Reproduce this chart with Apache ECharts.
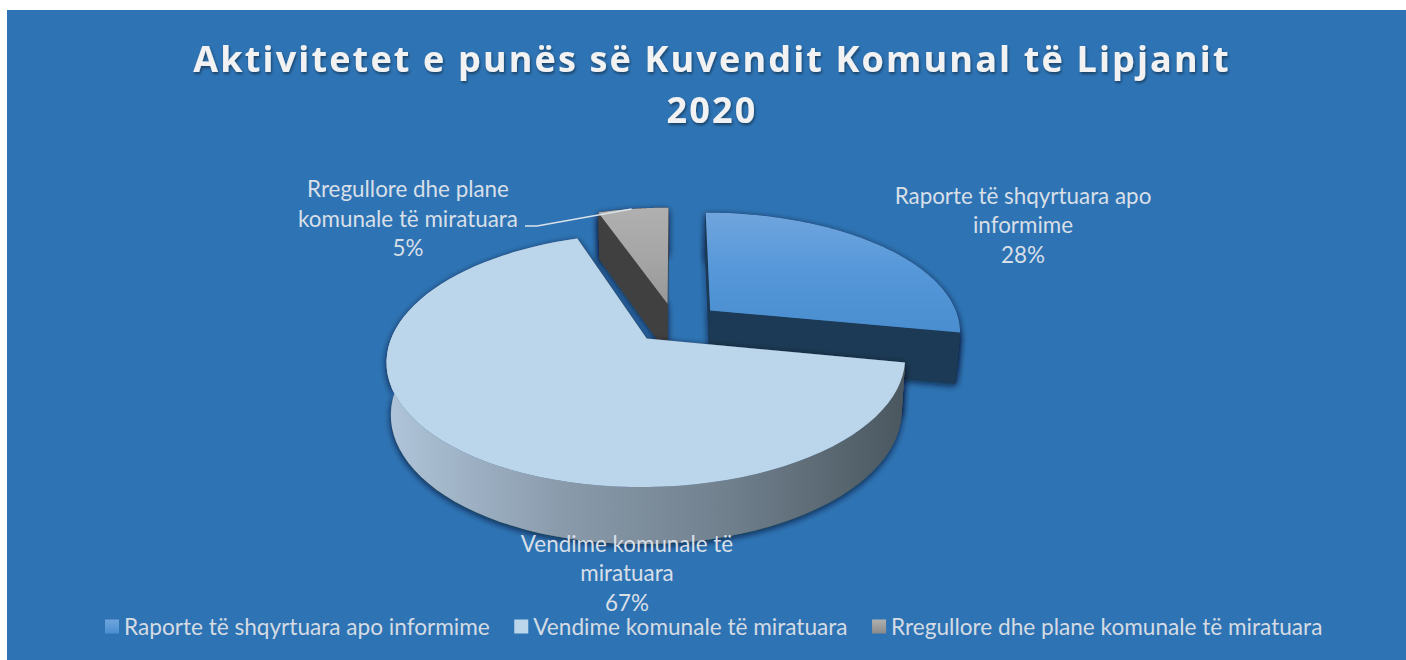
<!DOCTYPE html>
<html><head><meta charset="utf-8">
<style>
html,body{margin:0;padding:0;background:#fff}
#c{width:1406px;height:660px}
#c text[style*="36px"]{letter-spacing:2.15px}
</style>
<script src="https://cdn.jsdelivr.net/npm/echarts@6/dist/echarts.min.js"></script>
</head><body><div id="c"></div>
<script>
const titleLines = ['Aktivitetet e punës së Kuvendit Komunal të Lipjanit', '2020'];
const categories = ['Raporte të shqyrtuara apo informime', 'Vendime komunale të miratuara', 'Rregullore dhe plane komunale të miratuara'];
const labelLines = ['Raporte të shqyrtuara apo\ninformime', 'Vendime komunale të\nmiratuara', 'Rregullore dhe plane\nkomunale të miratuara'];
const values = [28, 66.6, 5.4];

// perspective disc layout
const P = {x0: 674.5, y0: 323, R: 250, S: 118, p: 1/6, e: 0.17, kx: 0.985};
const nudgeX = [3.5, 0.5, 0];
const total = values.reduce((a, b) => a + b, 0);
const starts = []; let acc = 0;
values.forEach(v => { starts.push(acc / total * 2 * Math.PI); acc += v; });
const spans = values.map(v => v / total * 2 * Math.PI);

function proj(i, a, r, low) {
  const m = starts[i] + spans[i] / 2;
  const X = P.e * Math.sin(m) + r * Math.sin(a);
  const Y = -P.e * Math.cos(m) - r * Math.cos(a);
  const w = 1 / (1 - P.p * Y);
  let x = P.x0 + P.R * X * w, y = P.y0 + P.S * Y * w;
  if (low) { x = P.x0 + (x - P.x0) * P.kx; y += 25 + 26 * w; }
  return [x + nudgeX[i], y];
}
function arc(i, a0, a1, low) {
  const pts = [], n = 80;
  for (let k = 0; k <= n; k++) pts.push(proj(i, a0 + (a1 - a0) * k / n, 1, low));
  return pts;
}
const grad = (x0, y0, x1, y1, stops) => new echarts.graphic.LinearGradient(x0, y0, x1, y1, stops.map((c, i) => ({offset: stops.length > 1 ? i / (stops.length - 1) : 0, color: c})));
const shadow = {shadowBlur: 7, shadowColor: 'rgba(0,10,35,0.8)', shadowOffsetX: 0, shadowOffsetY: 2};

const looks = [
  {top: () => grad(0, 0, 0, 1, ['#70a5de', '#5597d9', '#4a8ed0']), wall: () => '#1c3a55', radial: () => '#1c3a55', legend: () => grad(0, 0, 0, 1, ['#70a5de', '#4a8ed0'])},
  {top: () => '#bbd5eb', wall: () => grad(0, 0, 1, 0, ['#b0c5da', '#8a9bac', '#6f7f8c', '#4a575f']), radial: () => '#4a575f', legend: () => '#bbd5eb'},
  {top: () => grad(0, 0, 0, 1, ['#b0b0b0', '#a6a6a6', '#989898']), wall: () => '#404040', radial: () => '#404040', legend: () => grad(0, 0, 0, 1, ['#b0b0b0', '#8a8a8a'])}
];
const labelPos = [[1023, 224.5], [627, 572.5], [408, 218]];
const labelFont = '22.4px Lato';

function makeRender(i) {
  return function (params, api) {
    const pct = Math.round(api.value(0) / total * 100);
    const a0 = starts[i], a1 = a0 + spans[i];
    const apex = proj(i, 0, 0, false), apexL = proj(i, 0, 0, true);
    const topPts = [apex].concat(arc(i, a0, a1, false));
    const up = arc(i, a0, a1, false), lo = arc(i, a0, a1, true);
    const wallPts = up.concat(lo.slice().reverse());
    const radials = [a0, a1].map(a => [apex, proj(i, a, 1, false), proj(i, a, 1, true), apexL]);
    const kids = [];
    // cast shadows first, then clean faces above them
    kids.push({type: 'polygon', shape: {points: wallPts}, style: Object.assign({fill: looks[i].radial()}, shadow)});
    radials.forEach(r => kids.push({type: 'polygon', shape: {points: r}, style: Object.assign({fill: looks[i].radial()}, shadow)}));
    radials.forEach(r => kids.push({type: 'polygon', shape: {points: r}, style: {fill: looks[i].radial()}}));
    kids.push({type: 'polygon', shape: {points: wallPts}, style: {fill: looks[i].wall()}});
    kids.push({type: 'polygon', shape: {points: topPts}, style: {fill: looks[i].top()}});
    if (i === 2) {
      const end = proj(i, starts[i] + spans[i] * 0.48, 1, false);
      kids.push({type: 'polyline', shape: {points: [[525, 226], [537, 226], end]}, style: {stroke: '#d9e2ea', lineWidth: 1.5, fill: 'none'}});
    }
    kids.push({type: 'text', z2: 50, style: {text: labelLines[i] + '\n' + pct + '%', x: labelPos[i][0], y: labelPos[i][1], align: 'center', verticalAlign: 'middle', font: labelFont, lineHeight: 29.5, fill: '#d8dfe7'}});
    return {type: 'group', children: kids};
  };
}
const order = [0, 2, 1];
const chart = echarts.init(document.getElementById('c'), null, {renderer: 'svg', width: 1406, height: 660});
chart.setOption({
  animation: false,
  backgroundColor: '#fff',
  graphic: [{type: 'rect', z: -10, silent: true, shape: {x: 7, y: 10, width: 1399, height: 650}, style: {fill: '#2e74b5'}}],
  title: {
    text: titleLines.join('\n'), left: 707, top: 27.5, textAlign: 'center',
    textStyle: {fontFamily: 'Open Sans', fontWeight: 'bold', fontSize: 36, lineHeight: 51.5, color: '#f2f2f2', textShadowColor: 'rgba(0,0,0,0.45)', textShadowBlur: 3, textShadowOffsetX: 1, textShadowOffsetY: 2}
  },
  legend: {
    data: categories, left: 100, top: 610, icon: 'rect', itemWidth: 14, itemHeight: 14, itemGap: 24.5,
    textStyle: {fontFamily: 'Lato', fontSize: 22.6, color: '#d5dbe3', padding: [0, 0, 0, 0]}, selectedMode: false
  },
  series: order.map((i, k) => ({
    type: 'custom', name: categories[i], coordinateSystem: 'none', silent: true, z: 2 + k,
    itemStyle: {color: looks[i].legend()},
    data: [[values[i]]], renderItem: makeRender(i)
  }))
});
</script></body></html>
